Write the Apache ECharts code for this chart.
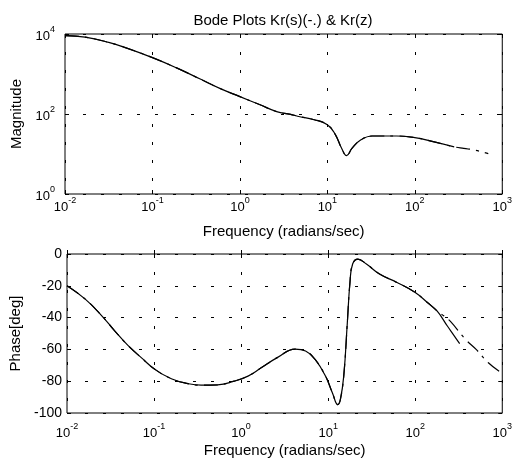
<!DOCTYPE html>
<html><head><meta charset="utf-8">
<script src="https://cdn.jsdelivr.net/npm/echarts@6/dist/echarts.min.js"></script>
<style>html,body{margin:0;padding:0;background:#fff}#c{width:515px;height:459px}</style>
</head><body><div id="c"></div>
<script>
const titleText = 'Bode Plots Kr(s)(-.) & Kr(z)';
const xName = 'Frequency (radians/sec)';
const magName = 'Magnitude';
const phaseName = 'Phase[deg]';

// Magnitude, Kr(z) (solid)
const magFreqZ = [0.01,0.017,0.0316,0.049,0.1,0.186,0.347,0.589,1,1.70,2.63,3.80,4.57,7.08,10,12.3,14.5,16.6,19.1,24.0,32.4,61.7,100,162,282];
const magZ     = [9120,8318,6166,4571,2570,1445,759,437,272,170,115,98,88,72,54,31,14.1,9.1,13.8,22.4,28.2,28.2,25.7,20.4,15.1];
// Magnitude, Kr(s) (dash-dot)
const magFreqS = [0.01,0.017,0.0316,0.049,0.1,0.186,0.347,0.589,1,1.70,2.63,3.80,4.57,7.08,10,12.3,14.5,16.6,19.1,24.0,32.4,61.7,100,162,282,363,479,692];
const magS     = [9120,8318,6166,4571,2570,1445,759,437,272,170,115,98,88,72,54,31,14.1,9.1,13.8,22.4,28.2,28.2,25.7,20.4,15.1,13.8,12.6,10.2];

// Phase, Kr(z) (solid)
const phFreqZ = [0.01,0.0162,0.0251,0.0355,0.0501,0.0724,0.102,0.158,0.245,0.347,0.537,0.832,1.20,1.70,2.63,4.17,5.50,7.08,9.33,11.2,12.9,13.8,15.1,16.6,17.8,19.1,21.9,27.5,38.9,61.7,100,138,178,234,282,324];
const phZ     = [-20,-28.4,-38.9,-48.5,-57.5,-65.5,-72.5,-78.5,-81.5,-82.5,-82.3,-80,-76.8,-71.6,-65,-59.8,-61,-66.3,-76.8,-87.4,-94.7,-91.6,-76.8,-43.2,-17.9,-6.3,-3.2,-6.3,-12.6,-17.9,-24.2,-30.5,-35.8,-45.3,-51.6,-56.4];
// Phase, Kr(s) (dash-dot)
const phFreqS = [0.01,0.0162,0.0251,0.0355,0.0501,0.0724,0.102,0.158,0.245,0.347,0.537,0.832,1.20,1.70,2.63,4.17,5.50,7.08,9.33,11.2,12.9,13.8,15.1,16.6,17.8,19.1,21.9,27.5,38.9,61.7,100,138,178,214,257,372,501,692,1000];
const phS     = [-20,-28.4,-38.9,-48.5,-57.5,-65.5,-72.5,-78.5,-81.5,-82.5,-82.3,-80,-76.8,-71.6,-65,-59.8,-61,-66.3,-76.8,-87.4,-94.7,-91.6,-76.8,-43.2,-17.9,-6.3,-3.2,-6.3,-12.6,-17.9,-24.2,-30.5,-35.8,-39,-42.7,-53.3,-60,-68.4,-75.2];

const FONT = '"Liberation Sans", Arial, Helvetica, sans-serif';
const zip = (a, b) => a.map((v, i) => [v, b[i]]);
const rich = {
  b: {fontSize: 13, fontFamily: FONT, color: '#000', lineHeight: 18, verticalAlign: 'bottom'},
  s: {fontSize: 9, fontFamily: FONT, color: '#000', verticalAlign: 'top'}
};
function powLabel(v) { const e = Math.round(Math.log10(v)); return '{b|10}{s|' + e + '}'; }
const gridLine = {show: true, lineStyle: {color: '#000', width: 1, type: [3, 15]}};
const tick = {show: true, inside: true, length: 4, lineStyle: {color: '#000'}};
const nameStyle = {fontSize: 15, fontFamily: FONT, color: '#000'};

function xAx(gi, margin) {
  return [{
    type: 'log', logBase: 10, min: 0.01, max: 1000, gridIndex: gi,
    axisLine: {show: false}, axisTick: tick,
    axisLabel: {formatter: powLabel, rich: rich, margin: margin, showMinLabel: true, showMaxLabel: true},
    splitLine: gridLine,
    name: xName, nameLocation: 'middle', nameGap: 30, nameTextStyle: nameStyle
  }, {
    type: 'log', logBase: 10, min: 0.01, max: 1000, gridIndex: gi, position: 'top',
    axisLine: {show: false}, axisTick: tick, axisLabel: {show: false}, splitLine: {show: false}
  }];
}
function lineSeries(xi, yi, xs, ys, dashed) {
  return {type: 'line', xAxisIndex: xi, yAxisIndex: yi, data: zip(xs, ys),
    showSymbol: false, smooth: 0.45,
    lineStyle: dashed ? {color: '#000', width: 1.2, type: [14, 6, 3, 6]} : {color: '#000', width: 1.2}};
}

const option = {
  backgroundColor: '#fff',
  animation: false,
  title: {text: titleText, left: 278, top: 8, textAlign: 'center',
    textStyle: {fontSize: 15, fontWeight: 'normal', fontFamily: FONT, color: '#000'}},
  grid: [
    {left: 65, top: 34, width: 438, height: 160, show: true, borderColor: '#000', borderWidth: 1, backgroundColor: 'transparent'},
    {left: 65, top: 254, width: 438, height: 159, show: true, borderColor: '#000', borderWidth: 1, backgroundColor: 'transparent'}
  ],
  xAxis: [].concat(xAx(0, 2), xAx(1, 9)),
  yAxis: [
    {type: 'log', logBase: 10, min: 1, max: 10000, interval: 2, gridIndex: 0,
     axisLine: {show: false}, axisTick: tick,
     axisLabel: {formatter: v => (Math.round(Math.log10(v)) % 2 === 0 ? powLabel(v) : ''), rich: rich, margin: 10},
     splitLine: gridLine,
     name: magName, nameLocation: 'middle', nameGap: 38, nameRotate: 90, nameTextStyle: nameStyle},
    {type: 'log', logBase: 10, min: 1, max: 10000, interval: 2, gridIndex: 0, position: 'right',
     axisLine: {show: false}, axisTick: tick, axisLabel: {show: false}, splitLine: {show: false}},
    {type: 'value', min: -100, max: 0, interval: 20, gridIndex: 1,
     axisLine: {show: false}, axisTick: tick,
     axisLabel: {fontSize: 14, fontFamily: FONT, color: '#000', margin: 5},
     splitLine: gridLine,
     name: phaseName, nameLocation: 'middle', nameGap: 44, nameRotate: 90, nameTextStyle: nameStyle},
    {type: 'value', min: -100, max: 0, interval: 20, gridIndex: 1, position: 'right',
     axisLine: {show: false}, axisTick: tick, axisLabel: {show: false}, splitLine: {show: false}}
  ],
  series: [
    lineSeries(0, 0, magFreqS, magS, true),
    lineSeries(0, 0, magFreqZ, magZ, false),
    lineSeries(2, 2, phFreqS, phS, true),
    lineSeries(2, 2, phFreqZ, phZ, false)
  ]
};
const chart = echarts.init(document.getElementById('c'), null, {renderer: 'canvas'});
chart.setOption(option);
</script>
</body></html>
